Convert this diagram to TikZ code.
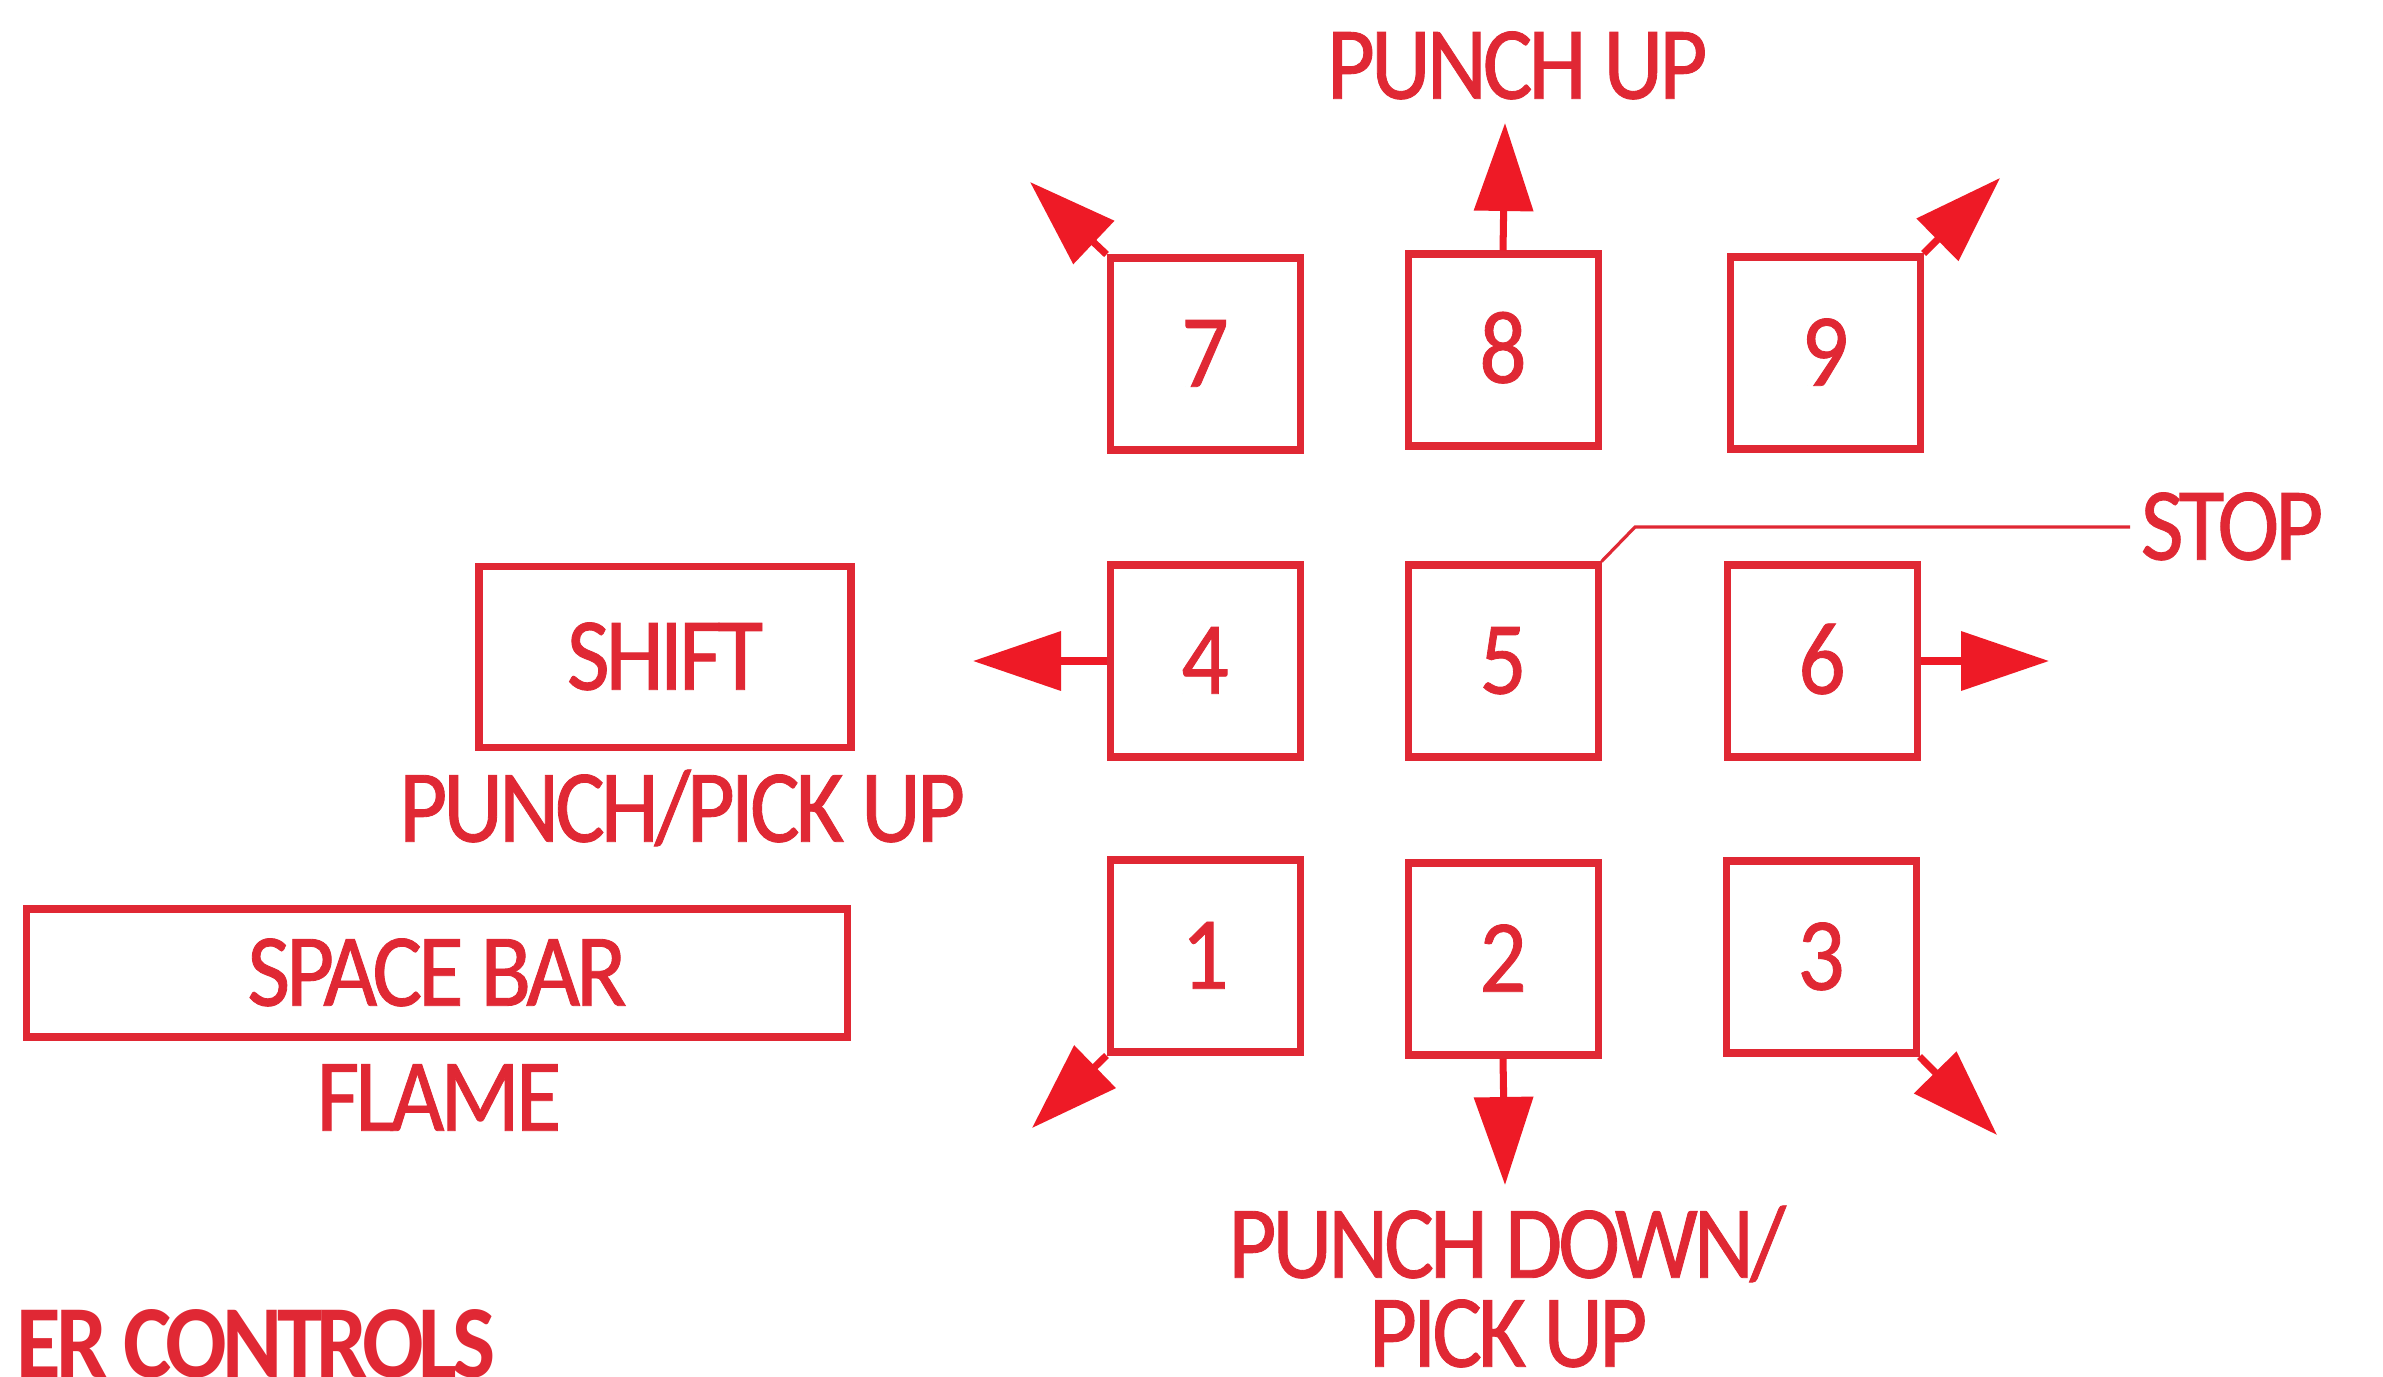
\documentclass[tikz,border=0pt]{standalone}
\usepackage{fontspec}
\setmainfont[FakeStretch=0.9, LetterSpace=-4, FakeBold=0.8]{Carlito}
\newfontfamily\ctrlfont[FakeStretch=0.88, LetterSpace=-5]{Carlito}
\usetikzlibrary{arrows.meta}
\definecolor{kred}{RGB}{224,40,52}
\definecolor{ared}{RGB}{238,26,38}
\begin{document}
\begin{tikzpicture}[x=0.1mm,y=-0.1mm,
  lbl/.style={inner sep=0pt, text=kred, font=\fontsize{29.5}{32}\selectfont, text height=18.6pt, text depth=0pt},
  keybox/.style={draw=kred, line width=2pt, inner sep=0pt, minimum width=19mm, minimum height=19.2mm, text=kred, font=\fontsize{29.5}{32}\selectfont, text height=18.6pt, text depth=0pt},
  arr/.style={draw=ared, line width=2pt, -{Triangle[length=8.8mm, width=5.8mm]}},
  leader/.style={draw=kred, line width=0.9pt}]
\useasboundingbox (0,0) rectangle (2383,1376);
\fill[white] (0,0) rectangle (2383,1376);
\clip (0,0) rectangle (2383,1376);
% keypad
\node[keybox] (b7) at (1205,354) {7};
\node[keybox] (b8) at (1503,350) {8};
\node[keybox] (b9) at (1825,353) {9};
\node[keybox] (b4) at (1205,661) {4};
\node[keybox] (b5) at (1503,661) {5};
\node[keybox] (b6) at (1822,661) {6};
\node[keybox] (b1) at (1205,956) {1};
\node[keybox] (b2) at (1503,959) {2};
\node[keybox] (b3) at (1821,957) {3};
% other keys
\node[keybox, minimum width=37.2mm, minimum height=18.1mm] (shift) at (665,657) {SHIFT};
\node[keybox, minimum width=82.1mm, minimum height=12.8mm] (space) at (437,973) {SPACE BAR};
% labels
\node[lbl] (pup) at (1517,66) {PUNCH UP};
\node[lbl] (ppick) at (682,809) {PUNCH/PICK UP};
\node[lbl] (flame) at (439,1098) {FLAME};
\node[lbl] (pdown) at (1507,1245) {PUNCH DOWN/};
\node[lbl] (pick) at (1508,1334) {PICK UP};
\node[lbl, anchor=west, inner xsep=1mm] (stop) at (2130,527) {STOP};
\node[lbl, anchor=east, font=\fontsize{29.5}{32}\selectfont\ctrlfont\bfseries] (ctrl) at (496,1345) {ER CONTROLS};
% arrow tips
\coordinate (t8) at (1505,123);
\coordinate (t4) at (973,661);
\coordinate (t6) at (2049,661);
\coordinate (t2) at (1505,1185);
\coordinate (t7) at (1030,182);
\coordinate (t9) at (2000,178);
\coordinate (t1) at (1032,1128);
\coordinate (t3) at (1997,1135);
\draw[arr] (b8.north) -- (t8);
\draw[arr] (b4.west) -- (t4);
\draw[arr] (b6.east) -- (t6);
\draw[arr] (b2.south) -- (t2);
\draw[arr] (b7.north west) -- (t7);
\draw[arr] (b9.north east) -- (t9);
\draw[arr] (b1.south west) -- (t1);
\draw[arr] (b3.south east) -- (t3);
% stop leader
\coordinate (bend) at (1635,527);
\draw[leader] (b5.north east) -- (bend) -- (stop.west);
\end{tikzpicture}
\end{document}
